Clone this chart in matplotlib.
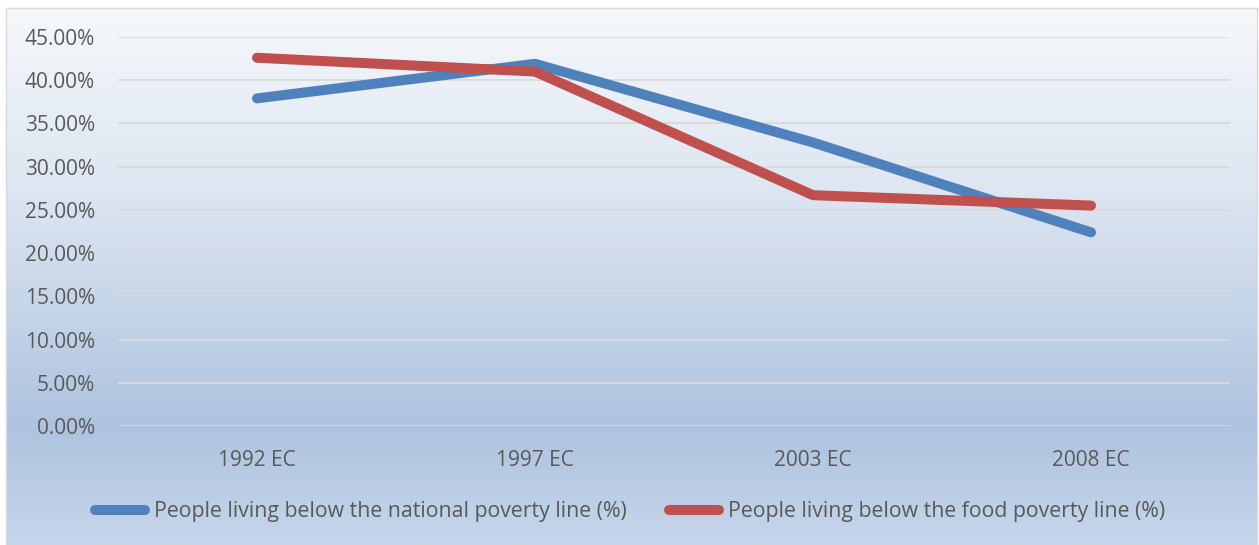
import matplotlib
matplotlib.use("Agg")
import matplotlib.pyplot as plt
import numpy as np
from matplotlib.colors import LinearSegmentedColormap
from matplotlib.lines import Line2D

categories = ["1992 EC", "1997 EC", "2003 EC", "2008 EC"]
national = [37.9, 41.9, 32.8, 22.4]
food = [42.6, 41.0, 26.7, 25.5]
series_names = ["People living below the national poverty line (%)",
                "People living below the food poverty line (%)"]
yticks = [0, 5, 10, 15, 20, 25, 30, 35, 40, 45]

W, H = 1259, 545
fig = plt.figure(figsize=(W / 100, H / 100), dpi=100)
fig.patch.set_facecolor("white")

# chart frame with gradient
fx0, fy0, fx1, fy1 = 6, 8, 1257, 545
bg = fig.add_axes([fx0 / W, 1 - fy1 / H, (fx1 - fx0) / W, (fy1 - fy0) / H])
cmap = LinearSegmentedColormap.from_list(
    "g", [(0.0, "#F6F8FB"), (0.35, "#DCE5F1"), (0.78, "#AEC3DF"), (1.0, "#C6D6EB")])
grad = np.linspace(0, 1, 256).reshape(-1, 1)
bg.imshow(grad, aspect="auto", cmap=cmap, extent=[0, 1, 0, 1], origin="upper")
bg.set_xlim(0, 1); bg.set_ylim(0, 1)
bg.set_xticks([]); bg.set_yticks([])
for s in bg.spines.values():
    s.set_color("#D9D9D9"); s.set_linewidth(1.0)

px0, py0, px1, py1 = 118, 37, 1230, 426
ax = fig.add_axes([px0 / W, 1 - py1 / H, (px1 - px0) / W, (py1 - py0) / H])
ax.patch.set_alpha(0)
x = np.arange(len(categories))
lw = 7.2
ax.plot(x, national, color="#4F81BD", lw=lw, solid_capstyle="round", solid_joinstyle="round", zorder=3)
ax.plot(x, food, color="#C0504D", lw=lw, solid_capstyle="round", solid_joinstyle="round", zorder=3)
ax.set_xlim(-0.5, len(categories) - 0.5)
ax.set_ylim(0, 45)
ax.set_yticks(yticks)
ax.set_yticklabels([f"{v:.2f}%" for v in yticks])
ax.set_xticks(x)
ax.set_xticklabels(categories)
ax.grid(axis="y", color="#D9D9D9", lw=1.3)
ax.set_axisbelow(True)
for s in ax.spines.values():
    s.set_visible(False)
fs = 15
ax.tick_params(length=0, labelsize=fs, labelcolor="#595959", pad=0)
ax.tick_params(axis="y", pad=16.5)
ax.tick_params(axis="x", pad=17)
for t in ax.get_xticklabels() + ax.get_yticklabels():
    t.set_fontfamily("Open Sans")

handles = [Line2D([], [], color="#4F81BD", lw=lw, solid_capstyle="round"),
           Line2D([], [], color="#C0504D", lw=lw, solid_capstyle="round")]
leg = fig.legend(handles, series_names, loc="center", bbox_to_anchor=(630 / W, 1 - 512 / H),
                 ncol=2, frameon=False, handlelength=2.35, handletextpad=0.4, columnspacing=2.0,
                 prop={"family": "Open Sans", "size": 15.3})
for t in leg.get_texts():
    t.set_color("#595959")

fig.savefig("out.png", dpi=100)
